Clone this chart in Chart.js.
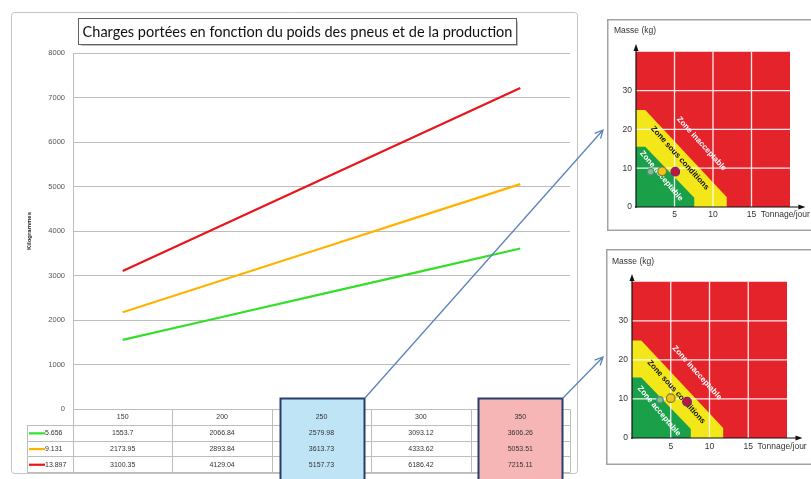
<!DOCTYPE html>
<html><head><meta charset="utf-8">
<script src="https://cdn.jsdelivr.net/npm/chart.js@4.4.0/dist/chart.umd.min.js"></script>
<style>
html,body{margin:0;padding:0;background:#fff;width:811px;height:479px;overflow:hidden;position:relative}
canvas{position:absolute;display:block}
</style></head><body>
<canvas id="main" width="811" height="479" style="left:0;top:0"></canvas>
<canvas id="c1" width="204" height="212" style="left:607px;top:19px"></canvas>
<canvas id="c2" width="205" height="216" style="left:606px;top:249px"></canvas>
<script>
// ---------- main chart data ----------
const chartTitle = 'Charges portées en fonction du poids des pneus et de la production';
const yTitle = 'Kilogrammes';
const categories = ['150', '200', '250', '300', '350'];
const seriesNames = ['5.656', '9.131', '13.897'];
const series1 = [1553.7, 2066.84, 2579.98, 3093.12, 3606.26];
const series2 = [2173.95, 2893.84, 3613.73, 4333.62, 5053.51];
const series3 = [3100.35, 4129.04, 5157.73, 6186.42, 7215.11];
const highlighted = ['250', '350'];

// ---------- inset (risk zone) data ----------
const zoneNames = ['Zone inacceptable', 'Zone sous conditions', 'Zone acceptable'];
const redZone = [{x:0,y:40},{x:20,y:40},{x:20,y:0}];
const yellowZone = [{x:0,y:25},{x:1.2,y:25},{x:11.8,y:2.5},{x:11.8,y:0}];
const greenZone = [{x:0,y:15.5},{x:1.2,y:15.5},{x:7.6,y:2.3},{x:7.6,y:0}];
const pointsTop = [{x:1.9,y:9.1},{x:3.4,y:9.2},{x:5.1,y:9.1}];
const pointsBottom = [{x:3.6,y:9.8},{x:5.0,y:10.2},{x:7.1,y:9.3}];
const massLabel = 'Masse (kg)';
const tonnageLabel = 'Tonnage/jour';

// ---------- main chart ----------
const lineColors = ['#34df2a', '#ffb300', '#e8161c'];
const seriesData = [series1, series2, series3];
const hlStyles = [{fill:'#bfe4f6'}, {fill:'#f6b6b6'}];
const titleFont = "Lato, 'Open Sans', Arial";

const mainDecor = {
  id: 'mainDecor',
  beforeDraw(chart) {
    const ctx = chart.ctx;
    ctx.save();
    ctx.fillStyle = '#fff';
    ctx.fillRect(0, 0, chart.width, chart.height);
    // outer frame
    ctx.strokeStyle = '#c4c4c4';
    ctx.lineWidth = 1;
    ctx.beginPath();
    ctx.roundRect(11.5, 12.5, 566, 461, 3);
    ctx.stroke();
    // title box
    ctx.fillStyle = '#fff';
    ctx.shadowColor = 'rgba(0,0,0,0.25)';
    ctx.shadowOffsetX = 1; ctx.shadowOffsetY = 1; ctx.shadowBlur = 1;
    ctx.fillRect(78.5, 18.5, 438, 26);
    ctx.shadowColor = 'transparent';
    ctx.strokeStyle = '#606060';
    ctx.strokeRect(78.5, 18.5, 438, 26);
    let fs = 16;
    ctx.font = fs + 'px ' + titleFont;
    const w = ctx.measureText(chartTitle).width;
    fs = fs * 430 / w;
    ctx.font = fs + 'px ' + titleFont;
    ctx.fillStyle = '#111';
    ctx.textAlign = 'center';
    ctx.textBaseline = 'middle';
    ctx.fillText(chartTitle, 297.5, 32);
    ctx.restore();
  },
  afterDraw(chart) {
    const ctx = chart.ctx;
    const xs = chart.scales.x, ys = chart.scales.y;
    const n = categories.length;
    const colW = (xs.right - xs.left) / n;
    const top = ys.bottom;
    const headH = 16, rowH = 15.7;
    const legendLeft = 27;
    const bottom = top + headH + rowH * seriesNames.length;
    ctx.save();
    // table lines
    ctx.strokeStyle = '#bdbdbd';
    ctx.lineWidth = 1;
    ctx.beginPath();
    for (let r = 0; r <= seriesNames.length; r++) {
      const y = Math.round(top + headH + r * rowH) + 0.5;
      ctx.moveTo(legendLeft, y); ctx.lineTo(xs.right, y);
    }
    for (let i = 0; i <= n; i++) {
      const x = Math.round(xs.left + i * colW) + 0.5;
      ctx.moveTo(x, top); ctx.lineTo(x, Math.round(bottom) + 0.5);
    }
    ctx.moveTo(legendLeft + 0.5, Math.round(top + headH) + 0.5);
    ctx.lineTo(legendLeft + 0.5, Math.round(bottom) + 0.5);
    ctx.stroke();
    // highlight box fills
    const boxes = highlighted.map((lab, k) => {
      const idx = categories.indexOf(lab);
      const cx = xs.getPixelForValue(idx);
      return {x: Math.round(cx - 42) + 0.5, y: top - 10.5, w: 84, h: 90, fill: hlStyles[k].fill};
    });
    boxes.forEach(b => { ctx.fillStyle = b.fill; ctx.fillRect(b.x, b.y, b.w, b.h); });
    // header labels
    ctx.fillStyle = '#333';
    ctx.textAlign = 'center';
    ctx.textBaseline = 'middle';
    ctx.font = "7px Arial, 'Liberation Sans'";
    categories.forEach((c, i) => {
      ctx.fillText(c, xs.getPixelForValue(i), top + headH / 2 + 0.5);
    });
    // values
    seriesData.forEach((arr, r) => {
      const y = top + headH + r * rowH + rowH / 2 + 0.5;
      arr.forEach((v, i) => ctx.fillText(String(v), xs.getPixelForValue(i), y));
      // legend key
      ctx.strokeStyle = lineColors[r];
      ctx.lineWidth = 2.2;
      ctx.beginPath();
      ctx.moveTo(legendLeft + 2, y); ctx.lineTo(legendLeft + 18, y);
      ctx.stroke();
      ctx.textAlign = 'left';
      ctx.fillText(seriesNames[r], legendLeft + 18, y);
      ctx.textAlign = 'center';
    });
    // highlight box borders
    ctx.strokeStyle = '#263f6a';
    ctx.lineWidth = 2;
    boxes.forEach(b => ctx.strokeRect(b.x, b.y, b.w, b.h));
    // arrows
    const arrow = (x1, y1, x2, y2) => {
      ctx.strokeStyle = '#5b84bb';
      ctx.lineWidth = 1.3;
      ctx.beginPath();
      ctx.moveTo(x1, y1); ctx.lineTo(x2, y2);
      const a = Math.atan2(y2 - y1, x2 - x1);
      const L = 9;
      ctx.moveTo(x2 - L * Math.cos(a - 0.45), y2 - L * Math.sin(a - 0.45));
      ctx.lineTo(x2, y2);
      ctx.lineTo(x2 - L * Math.cos(a + 0.45), y2 - L * Math.sin(a + 0.45));
      ctx.stroke();
    };
    arrow(boxes[0].x + boxes[0].w, boxes[0].y, 603, 130);
    arrow(boxes[1].x + boxes[1].w, boxes[1].y, 603, 357);
    ctx.restore();
  }
};

new Chart(document.getElementById('main'), {
  type: 'line',
  data: {
    labels: categories,
    datasets: seriesNames.map((name, i) => ({
      label: name, data: seriesData[i], borderColor: lineColors[i],
      borderWidth: 2.2, pointRadius: 0, tension: 0, fill: false
    }))
  },
  options: {
    responsive: false, animation: false, devicePixelRatio: 1,
    layout: {padding: {left: 0, right: 241, top: 53, bottom: 0}},
    plugins: {legend: {display: false}, tooltip: {enabled: false}, title: {display: false}},
    scales: {
      x: {offset: true, grid: {display: false, drawTicks: false}, border: {display: false},
          ticks: {display: false}, afterFit: s => { s.height = 70; }},
      y: {min: 0, max: 8000,
          ticks: {stepSize: 1000, font: {size: 7.5, family: 'Arial'}, color: '#555', padding: 8,
                  callback: v => String(v)},
          grid: {color: '#bdbdbd', lineWidth: 1, drawTicks: false},
          border: {display: true, color: '#bdbdbd'},
          title: {display: true, text: yTitle, font: {size: 6, weight: 'bold', family: 'Arial'}, color: '#222',
                  padding: {top: 26, bottom: 0}},
          afterFit: s => { s.width = 73; }}
    }
  },
  plugins: [mainDecor]
});

// ---------- insets ----------
const zoneColors = {red: '#e5232a', yellow: '#f3e719', green: '#1ba04a'};

function makeInset(id, pts, cfg) {
  const decor = {
    id: 'insetDecor',
    beforeDraw(chart) {
      const ctx = chart.ctx;
      ctx.save();
      ctx.fillStyle = '#fff';
      ctx.fillRect(0, 0, chart.width, chart.height);
      ctx.strokeStyle = '#a2a2a2';
      ctx.lineWidth = 1.5;
      ctx.strokeRect(0.75, 0.75, chart.width + 10, chart.height - 1.5);
      ctx.fillStyle = '#333';
      ctx.font = '8.5px Arial';
      ctx.textBaseline = 'middle';
      ctx.fillText(massLabel, cfg.massX, cfg.massY);
      ctx.restore();
    },
    beforeDatasetDraw(chart, args) {
      if (args.index !== 3) return;
      const ctx = chart.ctx, xs = chart.scales.x, ys = chart.scales.y;
      ctx.save();
      ctx.strokeStyle = 'rgba(255,255,255,0.9)';
      ctx.lineWidth = 1.3;
      ctx.beginPath();
      [5, 10, 15].forEach(v => {
        const x = xs.getPixelForValue(v);
        ctx.moveTo(x, ys.getPixelForValue(0)); ctx.lineTo(x, ys.getPixelForValue(40));
      });
      [10, 20, 30].forEach(v => {
        const y = ys.getPixelForValue(v);
        ctx.moveTo(xs.getPixelForValue(0), y); ctx.lineTo(xs.getPixelForValue(20), y);
      });
      ctx.stroke();
      // zone labels
      const lblColors = ['#fff', '#111', '#fff'];
      ctx.font = 'bold 8px Arial';
      ctx.textAlign = 'center';
      ctx.textBaseline = 'middle';
      zoneNames.forEach((t, i) => {
        const p = cfg.labels[i];
        ctx.save();
        ctx.translate(xs.getPixelForValue(p.x), ys.getPixelForValue(p.y));
        ctx.rotate(p.rot * Math.PI / 180);
        ctx.fillStyle = lblColors[i];
        ctx.fillText(t, 0, 0);
        ctx.restore();
      });
      ctx.restore();
    },
    afterDraw(chart) {
      const ctx = chart.ctx, xs = chart.scales.x, ys = chart.scales.y;
      const ox = xs.getPixelForValue(0), oy = ys.getPixelForValue(0);
      const tx = xs.right, ty = ys.top;
      ctx.save();
      ctx.strokeStyle = '#111'; ctx.fillStyle = '#111';
      ctx.lineWidth = 1.2;
      ctx.beginPath();
      ctx.moveTo(ox, oy + 1); ctx.lineTo(ox, ty + 4);
      ctx.moveTo(ox - 1, oy); ctx.lineTo(tx - 4, oy);
      ctx.stroke();
      ctx.beginPath();
      ctx.moveTo(ox, ty); ctx.lineTo(ox - 2.5, ty + 7); ctx.lineTo(ox + 2.5, ty + 7); ctx.closePath();
      ctx.moveTo(tx, oy); ctx.lineTo(tx - 7, oy - 2.5); ctx.lineTo(tx - 7, oy + 2.5); ctx.closePath();
      ctx.fill();
      ctx.fillStyle = '#333';
      ctx.font = '8.5px Arial';
      ctx.textAlign = 'left';
      ctx.textBaseline = 'top';
      ctx.fillText(tonnageLabel, xs.getPixelForValue(16.2), oy + cfg.xLabelDy);
      ctx.restore();
    }
  };
  return new Chart(document.getElementById(id), {
    type: 'line',
    data: {
      datasets: [
        {data: redZone, borderWidth: 0, pointRadius: 0, backgroundColor: zoneColors.red, fill: 'origin', order: 3, tension: 0},
        {data: yellowZone, borderWidth: 0, pointRadius: 0, backgroundColor: zoneColors.yellow, fill: 'origin', order: 2, tension: 0},
        {data: greenZone, borderWidth: 0, pointRadius: 0, backgroundColor: zoneColors.green, fill: 'origin', order: 1, tension: 0},
        {data: pts, showLine: false, order: 0,
         pointRadius: [3.2, 4.3, 4.3], pointBorderWidth: 1.2,
         pointBackgroundColor: ['#77c96a', '#efc51a', '#c0163c'],
         pointBorderColor: ['#5a7fa8', '#8a7a2a', '#6b2a7e']}
      ]
    },
    options: {
      responsive: false, animation: false, devicePixelRatio: 1,
      layout: {padding: {left: 0, right: cfg.padRight, top: cfg.padTop, bottom: 0}},
      plugins: {legend: {display: false}, tooltip: {enabled: false}},
      scales: {
        x: {type: 'linear', min: 0, max: 22,
            grid: {display: false, drawTicks: false}, border: {display: false},
            ticks: {stepSize: 5, color: '#333', font: {size: 8.5, family: 'Arial'}, padding: cfg.xLabelDy,
                    autoSkip: false, maxRotation: 0,
                    callback: v => (v === 5 || v === 10 || v === 15) ? String(v) : ''},
            afterFit: s => { s.height = cfg.xAxisH; }},
        y: {min: 0, max: 42,
            grid: {display: false, drawTicks: false}, border: {display: false},
            ticks: {stepSize: 10, color: '#333', font: {size: 8.5, family: 'Arial'}, padding: 4,
                    callback: v => v <= 30 ? String(v) : ''},
            afterFit: s => { s.width = cfg.yAxisW; }}
      }
    },
    plugins: [decor]
  });
}

makeInset('c1', pointsTop, {
  yAxisW: 29, xAxisH: 24, padTop: 25, padRight: 5.6, massX: 7, massY: 12, xLabelDy: 3,
  labels: [{x: 8.5, y: 16.3, rot: 48}, {x: 5.7, y: 12.6, rot: 48}, {x: 3.3, y: 8.0, rot: 50}]
});
makeInset('c2', pointsBottom, {
  yAxisW: 26, xAxisH: 27, padTop: 25, padRight: 8.5, massX: 6, massY: 13, xLabelDy: 4,
  labels: [{x: 8.4, y: 16.7, rot: 48}, {x: 5.7, y: 11.8, rot: 48}, {x: 3.5, y: 6.9, rot: 50}]
});
</script>
</body></html>
